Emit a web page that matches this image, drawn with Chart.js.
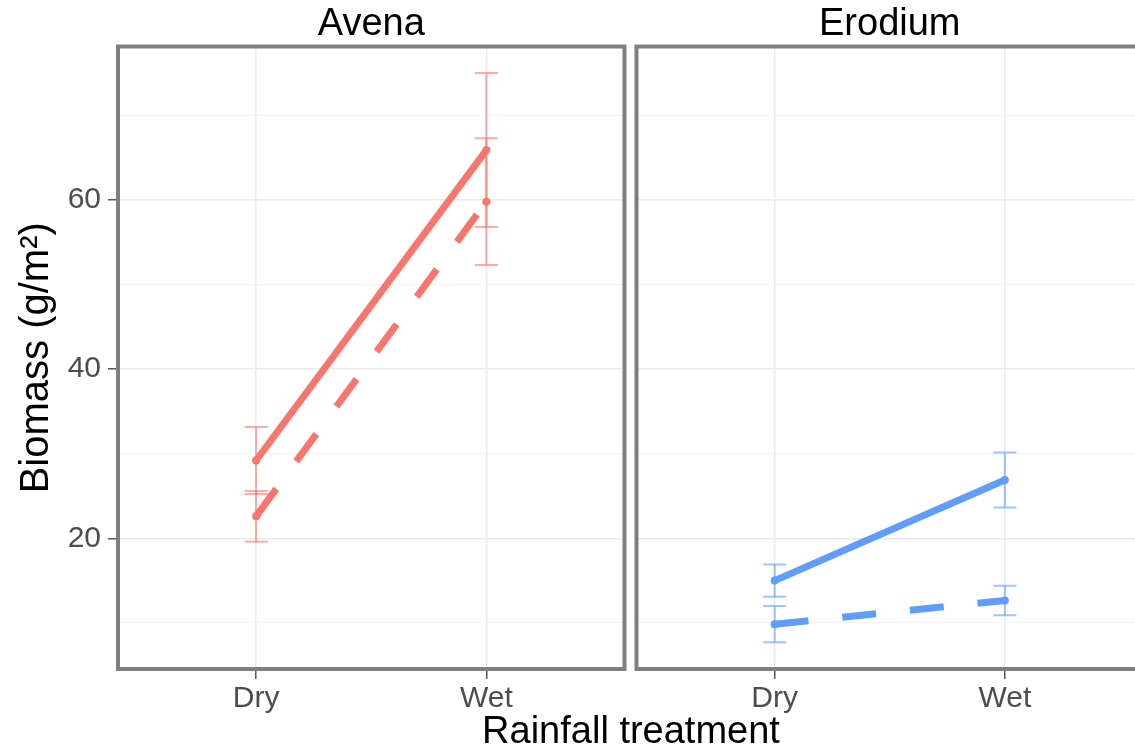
<!DOCTYPE html>
<html>
<head>
<meta charset="utf-8">
<script src="https://cdn.jsdelivr.net/npm/chart.js@4.4.1/dist/chart.umd.min.js"></script>
<style>
  html, body { margin: 0; padding: 0; background: #fff; overflow: hidden; }
  body { width: 1135px; height: 752px; position: relative; font-family: "Liberation Sans", Arial, sans-serif; }
  #avena { position: absolute; left: 0; top: 0; }
  #erodium { position: absolute; left: 616px; top: 0; }
  #xtitle { position: absolute; left: 0; top: 711px; width: 1262px; text-align: center;
            font-size: 38px; line-height: 38px; color: #000; white-space: nowrap; }
</style>
</head>
<body>
<canvas id="avena" width="640" height="752"></canvas>
<canvas id="erodium" width="547" height="752"></canvas>
<div id="xtitle">Rainfall treatment</div>
<script>
// values
const categories = ['Dry', 'Wet'];
const panels = ['Avena', 'Erodium'];
const avenaSolid = [29.2, 65.9];
const avenaSolidSe = [3.95, 9.1];
const avenaDashed = [22.6, 59.8];
const avenaDashedSe = [3.0, 7.5];
const erodiumSolid = [15.0, 26.9];
const erodiumSolidSe = [1.9, 3.25];
const erodiumDashed = [9.85, 12.65];
const erodiumDashedSe = [2.15, 1.75];
const yTicks = [10, 20, 30, 40, 50, 60, 70];
const yLabelled = [20, 40, 60];

Chart.defaults.font.family = '"Liberation Sans", Arial, sans-serif';

const panelBorder = {
    id: 'panelBorder',
    afterDraw(chart) {
        const {ctx, chartArea: a} = chart;
        ctx.save();
        ctx.strokeStyle = '#7f7f7f';
        ctx.lineWidth = 4;
        ctx.strokeRect(a.left, a.top, a.right - a.left, a.bottom - a.top);
        ctx.restore();
    }
};

const panelDatasets = (solid, solidSe, dashed, dashedSe, color, faded) => {
    const pts = vals => vals.map((v, i) => ({x: i + 1, y: v}));
    const main = (vals, dash) => ({
        data: pts(vals),
        borderColor: color,
        backgroundColor: color,
        borderWidth: 7,
        borderDash: dash,
        pointRadius: 4,
        pointBorderWidth: 0,
        pointBackgroundColor: color
    });
    const bars = [];
    [[solid, solidSe], [dashed, dashedSe]].forEach(([vals, se]) => {
        vals.forEach((v, i) => {
            bars.push({
                data: [{x: i + 1, y: v - se[i]}, {x: i + 1, y: v + se[i]}],
                borderColor: faded,
                borderWidth: 2,
                pointStyle: 'line',
                pointRadius: 11.5,
                pointBorderWidth: 2,
                pointBorderColor: faded
            });
        });
    });
    return [main(solid, []), main(dashed, [34, 34]), ...bars];
};

const makeChart = (id, title, datasets, showY) => {
    return new Chart(document.getElementById(id), {
        type: 'line',
        data: {datasets: datasets},
        options: {
            responsive: false,
            animation: false,
            events: [],
            layout: {padding: showY ? {right: 15.5} : {left: 20.5, right: 20}},
            plugins: {
                legend: {display: false},
                tooltip: {enabled: false},
                title: {
                    display: true,
                    text: title,
                    fullSize: false,
                    color: '#000',
                    font: {size: 38, weight: 'normal', lineHeight: 1.145},
                    padding: {top: 3, bottom: 0}
                }
            },
            scales: {
                x: {
                    type: 'linear',
                    min: 0.4,
                    max: 2.6,
                    afterBuildTicks: s => { s.ticks = categories.map((c, i) => ({value: i + 1})); },
                    afterFit: s => { s.height = 83; },
                    ticks: {
                        callback: v => categories[v - 1],
                        color: '#4d4d4d',
                        font: {size: 30},
                        padding: 2,
                        maxRotation: 0
                    },
                    grid: {color: '#ebebeb', lineWidth: 1.5, tickLength: 10, tickColor: '#555', tickWidth: 1.5},
                    border: {display: false}
                },
                y: {
                    type: 'linear',
                    min: 4.55,
                    max: 78.14,
                    afterBuildTicks: s => { s.ticks = yTicks.map(v => ({value: v})); },
                    afterFit: s => { s.width = showY ? 118 : 0; },
                    ticks: {
                        display: showY,
                        callback: v => yLabelled.includes(v) ? String(v) : '',
                        color: '#4d4d4d',
                        font: {size: 30},
                        padding: 7
                    },
                    grid: {
                        color: c => yLabelled.includes(c.tick.value) ? '#ebebeb' : '#f4f4f4',
                        lineWidth: c => yLabelled.includes(c.tick.value) ? 1.5 : 1,
                        drawTicks: showY,
                        tickLength: 10,
                        tickWidth: 1.5,
                        tickColor: c => yLabelled.includes(c.tick.value) ? '#555' : 'rgba(0,0,0,0)'
                    },
                    border: {display: false},
                    title: {
                        display: showY,
                        text: 'Biomass (g/m²)',
                        color: '#000',
                        font: {size: 40},
                        padding: {top: 13, bottom: 0}
                    }
                }
            }
        },
        plugins: [panelBorder]
    });
};

makeChart('avena', panels[0],
    panelDatasets(avenaSolid, avenaSolidSe, avenaDashed, avenaDashedSe, '#F8766D', 'rgba(248,118,109,0.6)'), true);
makeChart('erodium', panels[1],
    panelDatasets(erodiumSolid, erodiumSolidSe, erodiumDashed, erodiumDashedSe, '#619CFF', 'rgba(97,156,255,0.6)'), false);
</script>
</body>
</html>
